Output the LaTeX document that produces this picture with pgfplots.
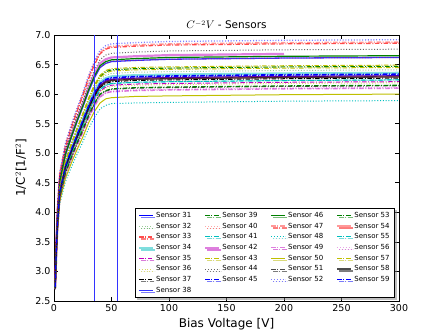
\documentclass[border=0pt]{standalone}
\usepackage{fontspec}
\setmainfont{DejaVu Sans}
\usepackage{pgfplots}
\usepackage{pgfplotstable}
\pgfplotsset{compat=1.18}
\usetikzlibrary{shadows}

% matplotlib classic colours
\definecolor{mb}{rgb}{0,0,1}
\definecolor{mg}{rgb}{0,0.5,0}
\definecolor{mr}{rgb}{1,0,0}
\definecolor{mc}{rgb}{0,0.75,0.75}
\definecolor{mm}{rgb}{0.75,0,0.75}
\definecolor{my}{rgb}{0.75,0.75,0}
\definecolor{mk}{rgb}{0,0,0}

\tikzset{
  dotl/.style={dash pattern=on 1pt off 1.8pt},
  ddl/.style={dash pattern=on 4.5pt off 1.6pt on 1pt off 1.6pt},
  s31/.style={draw=mb, line width=1.2pt},
  s32/.style={draw=mg, line width=1pt, dotl, opacity=.4},
  s33/.style={draw=mr, line width=1.2pt, ddl, opacity=.7},
  s34/.style={draw=mc, line width=2.2pt, opacity=.5},
  s35/.style={draw=mm, line width=1pt, ddl},
  s36/.style={draw=my, line width=1pt, dotl, opacity=.6},
  s37/.style={draw=mk, line width=1pt, ddl},
  s38/.style={draw=mb, line width=1.3pt, opacity=.8},
  s39/.style={draw=mg, line width=1.1pt, ddl},
  s40/.style={draw=mr, line width=1.3pt, dotl, opacity=.35},
  s41/.style={draw=mc, line width=1pt, ddl},
  s42/.style={draw=mm, line width=2.2pt, opacity=.5},
  s43/.style={draw=my, line width=1pt, ddl},
  s44/.style={draw=mk, line width=1pt, dotl, opacity=.6},
  s45/.style={draw=mb, line width=1.2pt, ddl},
  s46/.style={draw=mg, line width=1.2pt},
  s47/.style={draw=mr, line width=1.5pt, ddl, opacity=.4},
  s48/.style={draw=mc, line width=1pt, dotl},
  s49/.style={draw=mm, line width=1.5pt, ddl, opacity=.5},
  s50/.style={draw=my, line width=1pt},
  s51/.style={draw=mk, line width=1pt, ddl, opacity=.7},
  s52/.style={draw=mb, line width=1.3pt, dotl, opacity=.5},
  s53/.style={draw=mg, line width=1.1pt, ddl},
  s54/.style={draw=mr, line width=2.2pt, opacity=.4},
  s55/.style={draw=mc, line width=1pt, ddl},
  s56/.style={draw=mm, line width=1.5pt, dotl, opacity=.35},
  s57/.style={draw=my, line width=1pt, ddl},
  s58/.style={draw=mk, line width=1.3pt, opacity=.7},
  s59/.style={draw=mb, line width=1.2pt, ddl},
}

% 1/C^2 in units of 1e17 1/F^2, one row per sensor, columns = bias voltage [V]
\pgfplotstableread{
sensor 1 2 3 5 10 15 20 25 30 35 40 45 50 70 100 200 300
s31 2.72 3.33 3.80 4.34 4.77 5.04 5.29 5.52 5.77 5.99 6.15 6.22 6.25 6.27 6.28 6.30 6.31
s32 2.75 3.37 3.85 4.40 4.84 5.11 5.37 5.60 5.86 6.08 6.25 6.32 6.35 6.37 6.38 6.40 6.41
s33 2.80 3.49 4.02 4.63 5.11 5.42 5.70 5.97 6.25 6.49 6.68 6.76 6.79 6.81 6.83 6.85 6.86
s34 2.72 3.34 3.81 4.36 4.79 5.07 5.32 5.56 5.81 6.03 6.20 6.27 6.30 6.32 6.33 6.35 6.36
s35 2.70 3.30 3.75 4.28 4.70 4.96 5.21 5.44 5.68 5.89 6.05 6.12 6.15 6.17 6.18 6.20 6.21
s36 2.75 3.33 3.78 4.30 4.71 4.97 5.21 5.43 5.67 5.88 6.04 6.10 6.13 6.15 6.16 6.18 6.19
s37 2.70 3.31 3.77 4.31 4.73 5.00 5.25 5.48 5.73 5.95 6.11 6.18 6.21 6.23 6.24 6.26 6.27
s38 2.78 3.43 3.93 4.51 4.97 5.26 5.53 5.78 6.04 6.27 6.45 6.52 6.55 6.57 6.59 6.61 6.62
s39 2.75 3.38 3.87 4.42 4.87 5.15 5.41 5.65 5.91 6.14 6.30 6.38 6.41 6.43 6.44 6.46 6.47
s40 2.80 3.45 3.95 4.52 4.98 5.26 5.53 5.78 6.05 6.28 6.45 6.52 6.56 6.57 6.59 6.61 6.62
s41 2.70 3.30 3.76 4.29 4.72 4.98 5.23 5.46 5.71 5.92 6.08 6.15 6.18 6.20 6.21 6.23 6.24
s42 2.80 3.46 3.97 4.55 5.02 5.31 5.58 5.83 6.11 6.34 6.52 6.59 6.62 6.64 6.66 6.68 nan
s43 2.75 3.39 3.87 4.43 4.88 5.16 5.42 5.67 5.93 6.15 6.32 6.40 6.43 6.45 6.46 6.48 6.49
s44 2.80 3.47 3.99 4.58 5.06 5.35 5.63 5.89 6.17 6.40 6.58 6.66 6.69 6.71 6.73 6.75 6.76
s45 2.72 3.33 3.80 4.34 4.78 5.05 5.30 5.54 5.79 6.01 6.17 6.24 6.27 6.29 6.30 6.32 6.33
s46 2.78 3.44 3.94 4.52 4.99 5.28 5.55 5.80 6.07 6.30 6.48 6.55 6.58 6.60 6.62 6.64 6.65
s47 2.85 3.54 4.06 4.66 5.15 5.45 5.73 5.99 6.28 6.52 6.70 6.78 6.81 6.83 6.85 6.87 6.88
s48 2.70 3.24 3.66 4.14 4.52 4.76 4.98 5.19 5.41 5.60 5.75 5.81 5.84 5.85 5.86 5.88 5.89
s49 2.70 3.28 3.72 4.23 4.64 4.89 5.13 5.35 5.59 5.79 5.95 6.02 6.04 6.06 6.07 6.09 6.10
s50 2.70 3.26 3.69 4.19 4.58 4.83 5.06 5.27 5.51 5.70 5.85 5.92 5.94 5.96 5.97 5.99 6.00
s51 2.70 3.28 3.73 4.25 4.66 4.92 5.16 5.38 5.62 5.83 5.99 6.05 6.08 6.10 6.11 6.13 6.14
s52 2.85 3.54 4.07 4.68 5.17 5.48 5.76 6.02 6.31 6.55 6.74 6.82 6.85 6.87 6.89 6.91 6.92
s53 2.72 3.30 3.75 4.26 4.68 4.93 5.17 5.40 5.64 5.84 6.00 6.06 6.09 6.11 6.12 6.14 6.15
s54 2.72 3.33 3.79 4.33 4.76 5.03 5.28 5.51 5.76 5.98 6.14 6.21 6.24 6.26 6.27 6.29 6.30
s55 2.72 3.32 3.78 4.30 4.73 4.99 5.24 5.47 5.71 5.92 6.08 6.15 6.18 6.20 6.21 6.23 6.24
s56 2.70 3.28 3.72 4.23 4.64 4.90 5.14 5.36 5.60 5.80 5.96 6.02 6.05 6.07 6.08 6.10 6.11
s57 2.75 3.38 3.86 4.42 4.86 5.14 5.40 5.64 5.90 6.12 6.28 6.36 6.39 6.41 6.42 6.44 6.45
s58 2.72 3.33 3.79 4.33 4.76 5.02 5.27 5.51 5.76 5.97 6.13 6.20 6.23 6.25 6.26 6.28 6.29
s59 2.74 3.35 3.82 4.36 4.79 5.06 5.31 5.55 5.80 6.02 6.18 6.25 6.28 6.30 6.31 6.33 6.34
}\rawdata
\pgfplotstabletranspose[colnames from=sensor]{\cvdata}{\rawdata}

\begin{document}
\begin{tikzpicture}
\useasboundingbox (-54pt,-34pt) rectangle (385pt,301pt);
\begin{axis}[
    width=345pt, height=266pt, scale only axis,
    xmin=0, xmax=300, ymin=2.5, ymax=7.0,
    xtick={0,50,100,150,200,250,300},
    ytick={2.5,3.0,3.5,4.0,4.5,5.0,5.5,6.0,6.5,7.0},
    yticklabel style={/pgf/number format/.cd, fixed, fixed zerofill, precision=1},
    /pgf/number format/assume math mode=true,
    tick label style={font=\fontsize{9.5}{11}\selectfont},
    tick align=inside, major tick length=4pt,
    tick style={black, line width=0.6pt},
    axis line style={black, line width=0.8pt},
    xlabel={Bias Voltage [V]},
    ylabel={1/C$^2$[1/F$^2$]},
    ylabel style={yshift=2pt},
    label style={font=\fontsize{12}{14}\selectfont},
    title={$C^{-2}V$ - Sensors},
    title style={font=\fontsize{10.5}{12}\selectfont, at={(0.5,1)}, anchor=base, yshift=0pt},
    legend columns=4,
    legend cell align=left,
    legend image code/.code={\draw[#1] (0pt,0pt) -- (14pt,0pt);},
    legend style={
        at={(0.988,0.011)}, anchor=south east,
        font=\fontsize{7}{8}\selectfont,
        draw=black, line width=0.6pt, fill=white,
        /tikz/row sep=0pt,
        nodes={inner xsep=2pt, inner ysep=2pt, text height=5.2pt, text depth=1.5pt},
        /tikz/every even column/.append style={column sep=11pt},
        drop shadow={shadow xshift=2pt, shadow yshift=-2pt, fill=black!50, opacity=.5}
    },
]
\pgfplotsinvokeforeach{31,...,59}{
  \addplot[s#1, forget plot] table[x=colnames, y=s#1]{\cvdata};
}
\addplot[draw=mb!80!white, line width=1.1pt, forget plot] coordinates {(35,2.5) (35,7.0)};
\addplot[draw=mb!80!white, line width=1.1pt, forget plot] coordinates {(55,2.5) (55,7.0)};

% legend, filled row by row to mimic the column-wise matplotlib layout
\addlegendimage{s31}\addlegendentry{Sensor 31}
\addlegendimage{s39}\addlegendentry{Sensor 39}
\addlegendimage{s46}\addlegendentry{Sensor 46}
\addlegendimage{s53}\addlegendentry{Sensor 53}
\addlegendimage{s32}\addlegendentry{Sensor 32}
\addlegendimage{s40}\addlegendentry{Sensor 40}
\addlegendimage{s47}\addlegendentry{Sensor 47}
\addlegendimage{s54}\addlegendentry{Sensor 54}
\addlegendimage{s33}\addlegendentry{Sensor 33}
\addlegendimage{s41}\addlegendentry{Sensor 41}
\addlegendimage{s48}\addlegendentry{Sensor 48}
\addlegendimage{s55}\addlegendentry{Sensor 55}
\addlegendimage{s34}\addlegendentry{Sensor 34}
\addlegendimage{s42}\addlegendentry{Sensor 42}
\addlegendimage{s49}\addlegendentry{Sensor 49}
\addlegendimage{s56}\addlegendentry{Sensor 56}
\addlegendimage{s35}\addlegendentry{Sensor 35}
\addlegendimage{s43}\addlegendentry{Sensor 43}
\addlegendimage{s50}\addlegendentry{Sensor 50}
\addlegendimage{s57}\addlegendentry{Sensor 57}
\addlegendimage{s36}\addlegendentry{Sensor 36}
\addlegendimage{s44}\addlegendentry{Sensor 44}
\addlegendimage{s51}\addlegendentry{Sensor 51}
\addlegendimage{s58}\addlegendentry{Sensor 58}
\addlegendimage{s37}\addlegendentry{Sensor 37}
\addlegendimage{s45}\addlegendentry{Sensor 45}
\addlegendimage{s52}\addlegendentry{Sensor 52}
\addlegendimage{s59}\addlegendentry{Sensor 59}
\addlegendimage{s38}\addlegendentry{Sensor 38}

\node[anchor=south west, inner sep=0pt, font=\fontsize{9.5}{11}\selectfont]
  at (rel axis cs:0,1) [yshift=2pt] {1e17};
\end{axis}
\end{tikzpicture}
\end{document}
